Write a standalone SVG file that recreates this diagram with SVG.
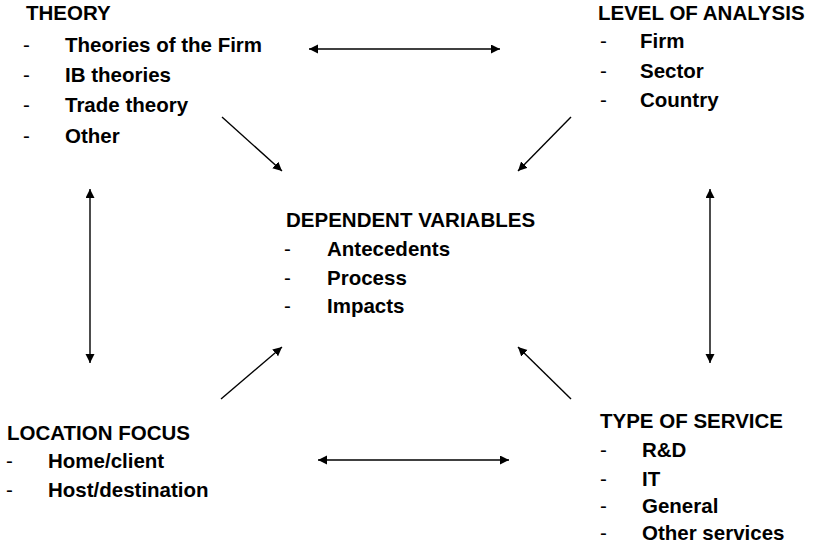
<svg xmlns="http://www.w3.org/2000/svg" width="820" height="544" viewBox="0 0 820 544">
<style>
text{font-family:"Liberation Sans",Arial,Helvetica,sans-serif;font-weight:bold;font-size:20.5px;fill:#000}
text.d{font-weight:normal}
.c line{stroke:#000;stroke-width:1.4;fill:none}
</style>
<defs>
<marker id="ah" markerUnits="userSpaceOnUse" markerWidth="10" markerHeight="10" viewBox="0 0 10 10" refX="9" refY="4.5" orient="auto-start-reverse">
<path d="M0,0 L9,4.5 L0,9 z" fill="#000"/>
</marker>
</defs>
<rect width="820" height="544" fill="#fff"/>
<g id="theory">
<text x="26" y="20">THEORY</text>
<text class="d" x="23" y="51.5">-</text><text x="65" y="51.5">Theories of the Firm</text>
<text class="d" x="23" y="82">-</text><text x="65" y="82">IB theories</text>
<text class="d" x="23" y="112">-</text><text x="65" y="112">Trade theory</text>
<text class="d" x="23" y="142.5">-</text><text x="65" y="142.5">Other</text>
</g>
<g id="level">
<text x="598" y="20">LEVEL OF ANALYSIS</text>
<text class="d" x="600" y="48">-</text><text x="640" y="48">Firm</text>
<text class="d" x="600" y="77.5">-</text><text x="640" y="77.5">Sector</text>
<text class="d" x="600" y="107">-</text><text x="640" y="107">Country</text>
</g>
<g id="dependent">
<text x="286" y="227">DEPENDENT VARIABLES</text>
<text class="d" x="284" y="256">-</text><text x="327" y="256">Antecedents</text>
<text class="d" x="284" y="285">-</text><text x="327" y="285">Process</text>
<text class="d" x="284" y="313">-</text><text x="327" y="313">Impacts</text>
</g>
<g id="location">
<text x="7" y="440">LOCATION FOCUS</text>
<text class="d" x="6" y="468">-</text><text x="48" y="468">Home/client</text>
<text class="d" x="6" y="497">-</text><text x="48" y="497">Host/destination</text>
</g>
<g id="service">
<text x="600" y="428">TYPE OF SERVICE</text>
<text class="d" x="600" y="457">-</text><text x="642" y="457">R&amp;D</text>
<text class="d" x="600" y="486">-</text><text x="642" y="486">IT</text>
<text class="d" x="600" y="513">-</text><text x="642" y="513">General</text>
<text class="d" x="600" y="540">-</text><text x="642" y="540">Other services</text>
</g>
<g id="connectors" class="c">
<line x1="309" y1="49" x2="500" y2="49" marker-start="url(#ah)" marker-end="url(#ah)"/>
<line x1="222" y1="117" x2="282" y2="171" marker-end="url(#ah)"/>
<line x1="571" y1="117" x2="518" y2="171" marker-end="url(#ah)"/>
<line x1="90" y1="189" x2="90" y2="363" marker-start="url(#ah)" marker-end="url(#ah)"/>
<line x1="710" y1="189" x2="710" y2="363" marker-start="url(#ah)" marker-end="url(#ah)"/>
<line x1="221" y1="399" x2="282" y2="347" marker-end="url(#ah)"/>
<line x1="571" y1="399" x2="518" y2="347" marker-end="url(#ah)"/>
<line x1="318" y1="460" x2="509" y2="460" marker-start="url(#ah)" marker-end="url(#ah)"/>
</g>
</svg>
